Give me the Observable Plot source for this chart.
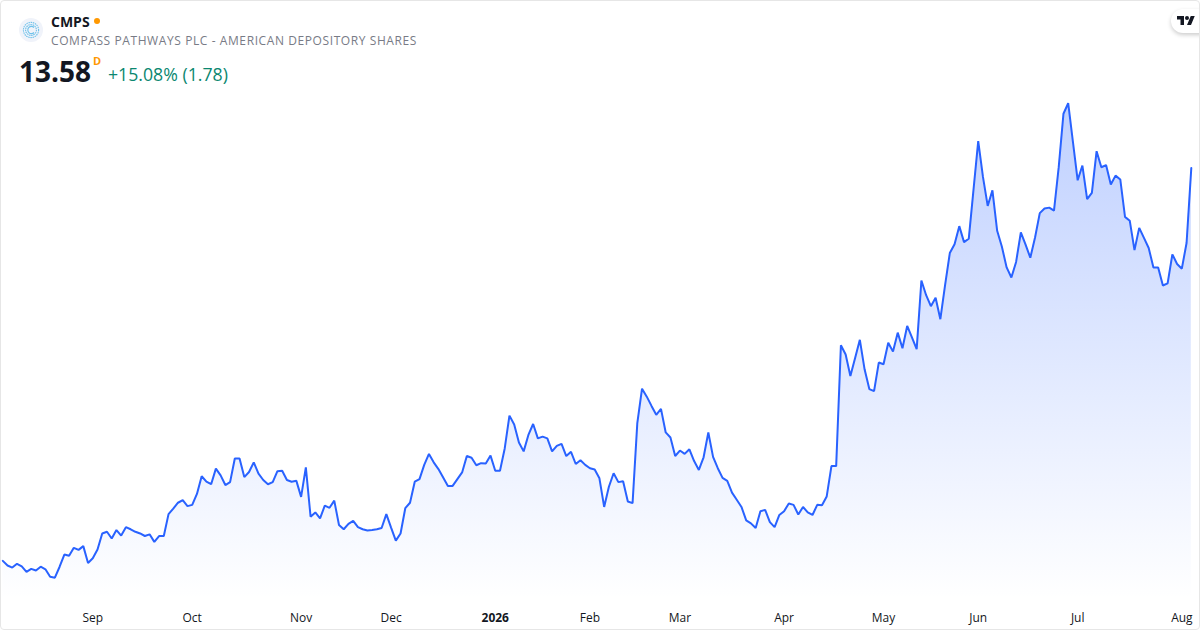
<!DOCTYPE html>
<html>
<head>
<meta charset="utf-8">
<script src="https://cdn.jsdelivr.net/npm/d3@7"></script>
<script src="https://cdn.jsdelivr.net/npm/@observablehq/plot@0.6"></script>
<style>
html,body{margin:0;padding:0;background:#fff;}
#card{position:relative;width:1198px;height:628px;border:1px solid #e6e6e6;border-radius:4px;overflow:hidden;font-family:"Open Sans",sans-serif;background:#fff;}
#chart{position:absolute;left:-1px;top:-1px;}
.abs{position:absolute;white-space:nowrap;}
#logo{left:18px;top:17px;width:24px;height:24px;border-radius:50%;background:#f0f3fa;}
#sym{left:50px;top:11px;font-size:14px;font-weight:700;color:#131722;line-height:20px;}
#dot{left:93px;top:17px;width:6px;height:6px;border-radius:50%;background:#ff9800;}
#name{left:50px;top:31px;font-size:12px;color:#787b86;line-height:18px;letter-spacing:.59px;}
#price{left:18px;top:51px;font-size:28px;font-weight:700;color:#131722;line-height:38px;}
#sess{left:92px;top:52px;font-size:11px;font-weight:700;color:#ff9800;line-height:16px;}
#chg{left:107px;top:61px;font-size:17.7px;color:#0b8770;line-height:24px;}
#tv{right:-12px;top:8px;width:40px;height:24px;border-radius:12px 0 0 12px;background:#fff;box-shadow:0 2px 4px rgba(0,0,0,.2);}
</style>
</head>
<body>
<div id="card">
  <div id="chart"></div>
  <div class="abs" id="logo"><svg width="24" height="24" viewBox="0 0 24 24"><g fill="none" stroke="#6ec1ea" stroke-width="1.1"><circle cx="12" cy="12" r="7.6" stroke-dasharray="1.5 .7"/><circle cx="12" cy="12" r="5.4" stroke-dasharray="1.5 .7"/><path d="M15 9.5A3.6 3.6 0 1 0 15 14.5"/></g></svg></div>
  <div class="abs" id="sym">CMPS</div>
  <div class="abs" id="dot"></div>
  <div class="abs" id="name">COMPASS PATHWAYS PLC - AMERICAN DEPOSITORY SHARES</div>
  <div class="abs" id="price">13.58</div>
  <div class="abs" id="sess">D</div>
  <div class="abs" id="chg">+15.08% (1.78)</div>
  <div class="abs" id="tv"><svg width="18" height="9" viewBox="0 4 36 18" style="position:absolute;left:6px;top:7px"><path fill="#131722" d="M14 22H7V11H0V4h14v18zM28 22h-8l7.5-18h8L28 22z"/><circle cx="20" cy="8" r="4" fill="#131722"/></svg></div>
</div>
<script>
const closes = [
4.25,4.14,4.09,4.18,4.12,3.99,4.06,4.02,4.11,4.05,3.87,3.85,4.11,4.40,4.37,4.56,4.51,4.60,4.20,4.31,
4.52,4.90,4.94,4.78,4.98,4.85,5.05,5.00,4.94,4.90,4.84,4.88,4.70,4.84,4.84,5.36,5.49,5.63,5.69,5.55,
5.58,5.84,6.26,6.13,6.07,6.44,6.28,6.05,6.12,6.68,6.68,6.24,6.36,6.59,6.32,6.17,6.07,6.12,6.38,6.39,
6.17,6.13,6.15,5.77,6.47,5.30,5.40,5.26,5.56,5.51,5.68,5.10,5.00,5.13,5.20,5.05,5.00,4.97,4.98,5.00,
5.03,5.36,5.04,4.73,4.90,5.50,5.63,6.13,6.19,6.53,6.79,6.59,6.43,6.23,6.03,6.03,6.19,6.35,6.74,6.70,
6.52,6.57,6.56,6.75,6.39,6.39,6.92,7.70,7.49,7.06,6.85,7.24,7.50,7.16,7.20,7.16,6.85,6.98,7.03,6.74,
6.84,6.55,6.64,6.53,6.45,6.42,6.21,5.53,6.01,6.33,6.12,6.14,5.66,5.62,7.52,8.34,8.15,7.93,7.72,7.86,
7.30,7.18,6.74,6.87,6.79,6.90,6.62,6.41,6.71,7.30,6.72,6.45,6.22,6.15,5.87,5.70,5.53,5.21,5.14,5.03,
5.43,5.46,5.17,5.05,5.34,5.43,5.61,5.58,5.35,5.53,5.40,5.34,5.58,5.57,5.78,6.50,6.50,9.37,9.15,8.64,
9.07,9.50,8.80,8.33,8.28,8.96,8.92,9.43,9.22,9.67,9.30,9.83,9.56,9.28,10.91,10.56,10.30,10.50,9.99,10.80,
11.56,11.77,12.20,11.82,11.90,13.06,14.22,13.37,12.68,13.05,12.09,11.71,11.22,10.98,11.35,12.05,11.76,11.45,11.93,12.51,
12.62,12.64,12.57,13.60,14.87,15.12,14.20,13.29,13.64,12.84,12.99,13.98,13.60,13.65,13.19,13.40,13.31,12.42,12.33,11.63,
12.16,11.92,11.68,11.22,11.22,10.79,10.84,11.53,11.30,11.19,11.80,13.58
];
const monthLabels = ["Sep","Oct","Nov","Dec","Feb","Mar","Apr","May","Jun","Jul","Aug"];
const monthBars   = [19,40,63,82,124,143,165,186,206,227,249];
const yearLabels = ["2026"];
const yearBars   = [104];

const bars = closes.map((close, bar) => ({bar, close}));
const labelFor = (bars, labels) => d => labels[bars.indexOf(d)];

const gradient = () => {
  const defs = d3.create("svg:defs");
  const g = defs.append("linearGradient").attr("id","fillGrad")
    .attr("gradientUnits","userSpaceOnUse").attr("x1",0).attr("x2",0).attr("y1",100).attr("y2",600);
  g.append("stop").attr("offset",0).attr("stop-color","#2962ff").attr("stop-opacity",0.3);
  g.append("stop").attr("offset",1).attr("stop-color","#2962ff").attr("stop-opacity",0.0);
  return defs.node();
};

const chart = Plot.plot({
  width: 1200, height: 630,
  marginTop: 0, marginRight: 0, marginBottom: 30, marginLeft: 0,
  style: {fontFamily: '"Open Sans",sans-serif', background: "transparent"},
  x: {domain: [-0.485, 252.73], range: [0, 1200], axis: null},
  y: {domain: [3.32, 17.56], axis: null},
  marks: [
    gradient,
    Plot.areaY(bars, {x: "bar", y1: 3.32, y2: "close", fill: "url(#fillGrad)"}),
    Plot.lineY(bars, {x: "bar", y: "close", stroke: "#2962ff", strokeWidth: 2, strokeLinejoin: "miter", curve: "linear"}),
    Plot.axisX({ticks: monthBars, tickFormat: labelFor(monthBars, monthLabels), tickSize: 0, tickPadding: 14, fontSize: 12, fill: "#131722", fontWeight: 400, anchor: "bottom", label: null}),
    Plot.axisX({ticks: yearBars, tickFormat: labelFor(yearBars, yearLabels), tickSize: 0, tickPadding: 14, fontSize: 12, fill: "#131722", fontWeight: 700, anchor: "bottom", label: null})
  ]
});
document.getElementById("chart").append(chart);
</script>
</body>
</html>
